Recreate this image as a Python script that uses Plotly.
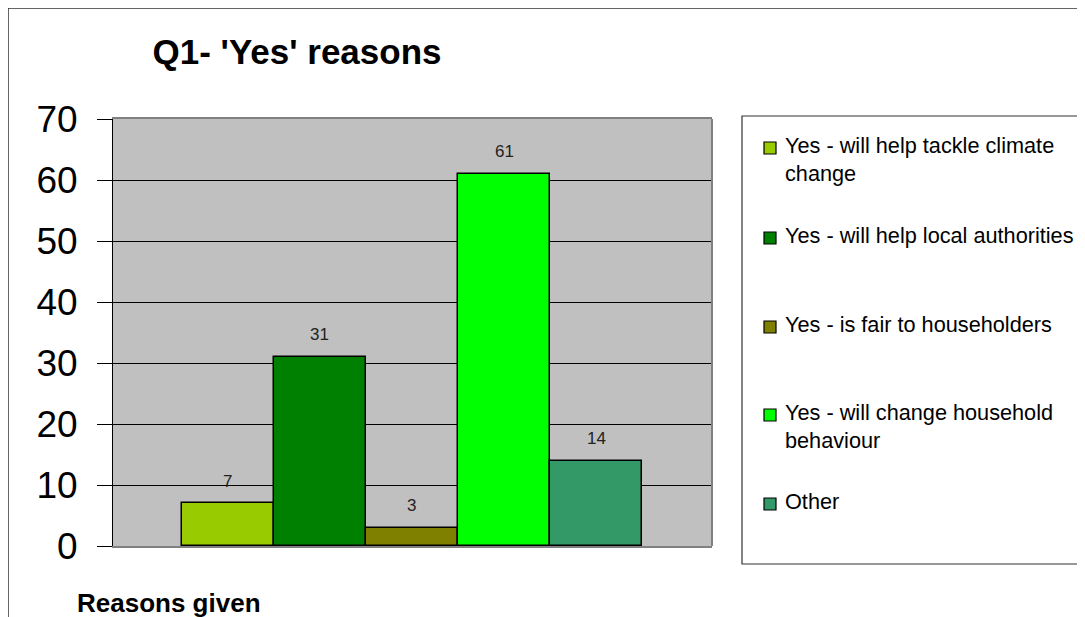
import plotly.graph_objects as go

# ---- data ----
categories = [
    "Yes - will help tackle climate change",
    "Yes - will help local authorities",
    "Yes - is fair to householders",
    "Yes - will change household behaviour",
    "Other",
]
legend_labels = [
    "Yes - will help tackle climate<br>change",
    "Yes - will help local authorities",
    "Yes - is fair to householders",
    "Yes - will change household<br>behaviour",
    "Other",
]
values = [7, 31, 3, 61, 14]
colors = ["#99CC00", "#008000", "#808000", "#00FF00", "#339966"]
y_ticks = [0, 10, 20, 30, 40, 50, 60, 70]

OFF = 8  # page body margin
W, H = 1085 - OFF, 617 - OFF
# plot area in reference-page pixels
RL, RR, RT, RB = 113, 712, 119, 546
L, R, T, B = RL - OFF, RR - OFF, RT - OFF, RB - OFF

def px_x(p):
    return (p - RL) / (RR - RL)

def px_y(p):
    return (RB - p) / (RB - RT)

FONT = "Arial, Liberation Sans, sans-serif"

fig = go.Figure()
fig.add_trace(go.Bar(
    x=list(range(len(values))),
    y=values,
    width=1,
    marker=dict(color=colors, line=dict(color="#000000", width=1.5)),
    hovertext=categories,
    showlegend=False,
))

annotations = []
# data labels
for i, v in enumerate(values):
    annotations.append(dict(
        x=i, y=v, xref="x", yref="y", text=str(v), showarrow=False,
        yanchor="middle", yshift=22, font=dict(family=FONT, size=17, color="#222222"),
    ))

# custom legend
legend_first_line = [146, 236, 325, 413, 502]
shapes = []
for lab, col, yc in zip(legend_labels, colors, legend_first_line):
    annotations.append(dict(
        x=px_x(783), y=px_y(yc - 15), xref="paper", yref="paper",
        xanchor="left", yanchor="top", align="left", text=lab, showarrow=False,
        font=dict(family=FONT, size=21.7, color="#000000"),
    ))
    shapes.append(dict(
        type="rect", xref="paper", yref="paper",
        x0=px_x(764), x1=px_x(776), y0=px_y(yc + 2 - 6), y1=px_y(yc + 2 + 6),
        fillcolor=col, line=dict(color="#000000", width=1.2),
    ))

# legend box
shapes.append(dict(type="rect", xref="paper", yref="paper",
                   x0=px_x(742), x1=px_x(1100), y0=px_y(564), y1=px_y(116),
                   line=dict(color="#333333", width=1.2), fillcolor="rgba(0,0,0,0)", layer="below"))
# outer chart border
shapes.append(dict(type="rect", xref="paper", yref="paper",
                   x0=px_x(8), x1=px_x(1100), y0=px_y(640), y1=px_y(8),
                   line=dict(color="#333333", width=1.5), fillcolor="rgba(0,0,0,0)", layer="below"))
# right plot border
shapes.append(dict(type="line", xref="paper", yref="paper",
                   x0=1, x1=1, y0=0, y1=1, line=dict(color="#808080", width=2)))

# axis title
annotations.append(dict(
    x=px_x(75), y=px_y(603), xref="paper", yref="paper", xanchor="left", yanchor="middle",
    text="<b>Reasons given</b>", showarrow=False,
    font=dict(family=FONT, size=26, color="#000000"),
))

fig.update_layout(
    width=W, height=H,
    margin=dict(l=L, r=W - R, t=T, b=H - B, pad=0),
    paper_bgcolor="#FFFFFF",
    plot_bgcolor="#C0C0C0",
    title=dict(text="<b>Q1- 'Yes' reasons</b>", x=(297 - OFF) / W, xanchor="center",
               xref="container", yref="container", y=1 - (52 - OFF) / H, yanchor="middle",
               font=dict(family=FONT, size=35, color="#000000")),
    showlegend=False,
    xaxis=dict(range=[-1.246, 5.257], showticklabels=False, ticks="", showgrid=False,
               zeroline=False, showline=True, linecolor="#808080", linewidth=2, mirror=True,
               fixedrange=True),
    yaxis=dict(range=[0, 70], tickvals=y_ticks, ticktext=[str(t) for t in y_ticks],
               showgrid=True, gridcolor="#000000", gridwidth=1, zeroline=False,
               showline=True, linecolor="#000000", linewidth=1,
               ticks="outside", ticklen=15, tickcolor="#000000", tickwidth=1,
               ticklabelstandoff=12,
               tickfont=dict(family=FONT, size=37, color="#000000"), fixedrange=True),
    annotations=annotations,
    shapes=shapes,
    bargap=0,
)

fig.write_html("out.html")
